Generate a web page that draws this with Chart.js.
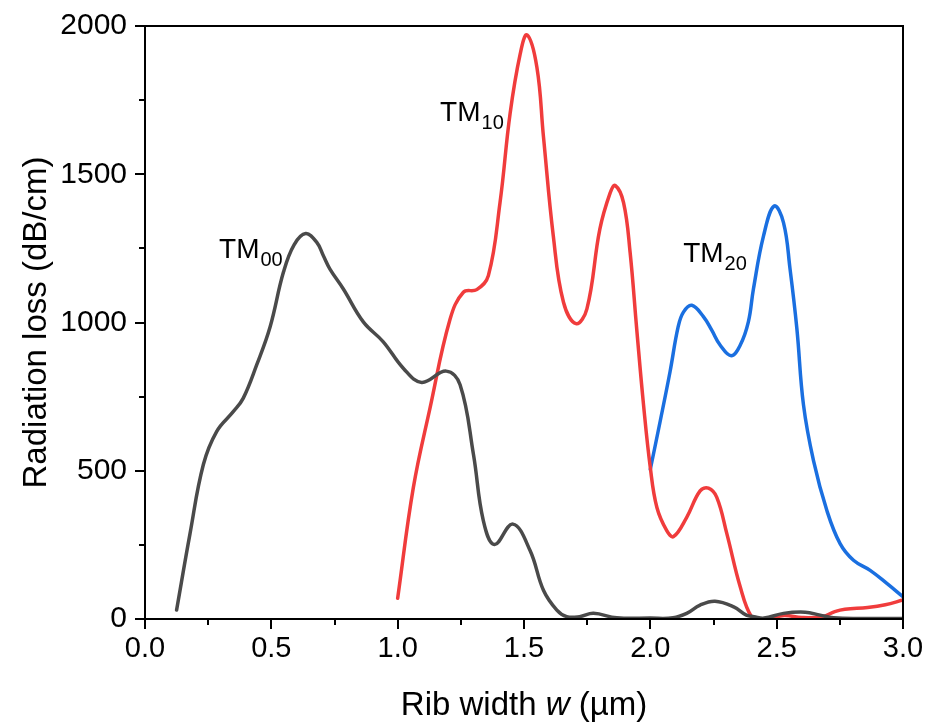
<!DOCTYPE html>
<html>
<head>
<meta charset="utf-8">
<script src="https://cdn.jsdelivr.net/npm/chart.js@4.4.1/dist/chart.umd.min.js"></script>
<style>
  html, body { margin: 0; padding: 0; background: #fff; }
  #wrap { width: 944px; height: 724px; position: relative; }
</style>
</head>
<body>
<div id="wrap"><canvas id="c" width="944" height="724"></canvas></div>
<script>
// ---- Data ----
const tm00W = [0.125, 0.178, 0.231, 0.284, 0.35, 0.389, 0.442, 0.495, 0.548, 0.59, 0.636, 0.68, 0.706, 0.732, 0.785, 0.864, 0.943, 1.023, 1.095, 1.192, 1.247, 1.30, 1.339, 1.383, 1.456, 1.524, 1.577, 1.63, 1.669, 1.72, 1.775, 1.867, 2.0, 2.09, 2.144, 2.197, 2.256, 2.33, 2.38, 2.41, 2.45, 2.527, 2.613, 2.672, 2.725, 2.85, 3.0];
const tm00V = [30, 287, 521, 633, 700, 745, 857, 985, 1170, 1262, 1300, 1270, 1225, 1180, 1113, 1002, 935, 845, 798, 836, 790, 555, 332, 251, 320, 231, 97, 30, 8, 8, 19, 4, 3, 4, 19, 47, 60, 41, 13, 8, 3, 19, 23, 13, 4, 2, 2];

const tm10W = [1.0, 1.062, 1.128, 1.207, 1.26, 1.313, 1.359, 1.405, 1.445, 1.485, 1.512, 1.551, 1.577, 1.616, 1.656, 1.706, 1.749, 1.80, 1.841, 1.861, 1.894, 1.92, 1.946, 1.973, 2.0, 2.026, 2.065, 2.092, 2.144, 2.197, 2.23, 2.263, 2.303, 2.356, 2.40, 2.435, 2.47, 2.53, 2.6, 2.68, 2.73, 2.77, 2.86, 2.93, 3.0];
const tm10V = [70, 443, 711, 1010, 1102, 1111, 1158, 1404, 1705, 1906, 1970, 1861, 1627, 1292, 1069, 996, 1046, 1314, 1437, 1462, 1404, 1236, 979, 723, 510, 376, 298, 278, 343, 432, 441, 410, 287, 108, 8, 0, 2, 12, 5, 8, 25, 33, 39, 48, 64];

const tm20W = [2.0, 2.039, 2.078, 2.11, 2.131, 2.164, 2.21, 2.243, 2.276, 2.32, 2.356, 2.388, 2.408, 2.448, 2.49, 2.527, 2.553, 2.58, 2.606, 2.646, 2.699, 2.751, 2.804, 2.87, 2.936, 3.0];
const tm20V = [505, 667, 834, 985, 1035, 1058, 1020, 974, 924, 888, 924, 1002, 1113, 1292, 1393, 1337, 1180, 979, 723, 533, 365, 254, 198, 164, 120, 75];

const seriesNames = ['TM00', 'TM10', 'TM20'];
// mode labels: main text, subscript, anchor (data coords of text start / baseline)
const labelMain = ['TM', 'TM', 'TM'];
const labelSub  = ['00', '10', '20'];
const labelAtW  = [0.293, 1.168, 2.13];
const labelAtV  = [1219, 1678, 1203];

const xTickLabels = ['0.0', '0.5', '1.0', '1.5', '2.0', '2.5', '3.0'];
const yTickLabels = ['0', '500', '1000', '1500', '2000'];
const xTitleParts = ['Rib width ', 'w', ' (\u00b5m)'];
const yTitle = 'Radiation loss (dB/cm)';

// ---- Build ----
const FONT = "'Liberation Sans', Arial, Helvetica, sans-serif";
function pts(ws, vs) { return ws.map((w, i) => ({ x: w, y: vs[i] })); }

const frameAndExtras = {
  id: 'frameAndExtras',
  afterDraw(chart) {
    const { ctx, chartArea: a, scales: { x, y } } = chart;
    ctx.save();
    // minor ticks
    ctx.strokeStyle = '#000';
    ctx.lineWidth = 2;
    ctx.beginPath();
    for (let v = 0.25; v < 3; v += 0.5) {
      const px = Math.round(x.getPixelForValue(v));
      ctx.moveTo(px, a.bottom); ctx.lineTo(px, a.bottom + 6);
    }
    for (let v = 250; v < 2000; v += 500) {
      const py = Math.round(y.getPixelForValue(v));
      ctx.moveTo(a.left, py); ctx.lineTo(a.left - 6, py);
    }
    ctx.stroke();
    // frame
    ctx.lineWidth = 2;
    ctx.strokeRect(a.left, a.top, a.right - a.left, a.bottom - a.top);
    // x title with italic w
    const fs = 33;
    const fonts = [`${fs}px ${FONT}`, `italic ${fs}px ${FONT}`, `${fs}px ${FONT}`];
    let widths = xTitleParts.map((t, i) => { ctx.font = fonts[i]; return ctx.measureText(t).width; });
    const total = widths.reduce((s, w) => s + w, 0);
    let cx = (a.left + a.right) / 2 - total / 2;
    ctx.fillStyle = '#000';
    ctx.textBaseline = 'alphabetic';
    ctx.textAlign = 'left';
    xTitleParts.forEach((t, i) => { ctx.font = fonts[i]; ctx.fillText(t, cx, 715); cx += widths[i]; });
    // mode labels
    for (let i = 0; i < labelMain.length; i++) {
      const px = x.getPixelForValue(labelAtW[i]);
      const py = y.getPixelForValue(labelAtV[i]);
      ctx.font = `28px ${FONT}`;
      ctx.fillText(labelMain[i], px, py);
      const mw = ctx.measureText(labelMain[i]).width;
      ctx.font = `20px ${FONT}`;
      ctx.fillText(labelSub[i], px + mw + 1, py + 8);
    }
    ctx.restore();
  }
};

const ds = (label, ws, vs, color) => ({
  label, data: pts(ws, vs), showLine: true, borderColor: color, backgroundColor: color,
  borderWidth: 3.5, pointRadius: 0, tension: 0.4, fill: false,
  borderCapStyle: 'round', borderJoinStyle: 'round'
});

new Chart(document.getElementById('c'), {
  type: 'scatter',
  data: {
    datasets: [
      ds(seriesNames[0], tm00W, tm00V, '#4a4a4a'),
      ds(seriesNames[1], tm10W, tm10V, '#f03c3c'),
      ds(seriesNames[2], tm20W, tm20V, '#1a6fe0')
    ]
  },
  options: {
    responsive: false,
    animation: false,
    events: [],
    layout: { padding: { top: 22, right: 41, left: 0, bottom: 0 } },
    plugins: { legend: { display: false }, tooltip: { enabled: false } },
    scales: {
      x: {
        type: 'linear', min: 0, max: 3,
        afterFit(s) { s.height = 105; },
        afterBuildTicks(s) { s.ticks = xTickLabels.map(t => ({ value: parseFloat(t) })); },
        ticks: {
          callback: (v) => xTickLabels.find(t => parseFloat(t) === v) ?? '',
          font: { family: FONT, size: 29 }, color: '#000', padding: 3, maxRotation: 0, autoSkip: false
        },
        grid: { drawOnChartArea: false, drawTicks: true, tickLength: 10, color: '#000', lineWidth: 2 },
        border: { display: true, color: '#000', width: 2 },
        title: { display: false }
      },
      y: {
        type: 'linear', min: 0, max: 2000,
        afterFit(s) { s.width = 145; },
        afterBuildTicks(s) { s.ticks = yTickLabels.map(t => ({ value: parseFloat(t) })); },
        ticks: {
          callback: (v) => yTickLabels.find(t => parseFloat(t) === v) ?? '',
          font: { family: FONT, size: 30 }, color: '#000', padding: 8, autoSkip: false
        },
        grid: { drawOnChartArea: false, drawTicks: true, tickLength: 10, color: '#000', lineWidth: 2 },
        border: { display: true, color: '#000', width: 2 },
        title: { display: true, text: yTitle, color: '#000', font: { family: FONT, size: 33 }, padding: { top: 17, bottom: 0 } }
      }
    }
  },
  plugins: [frameAndExtras]
});
</script>
</body>
</html>
